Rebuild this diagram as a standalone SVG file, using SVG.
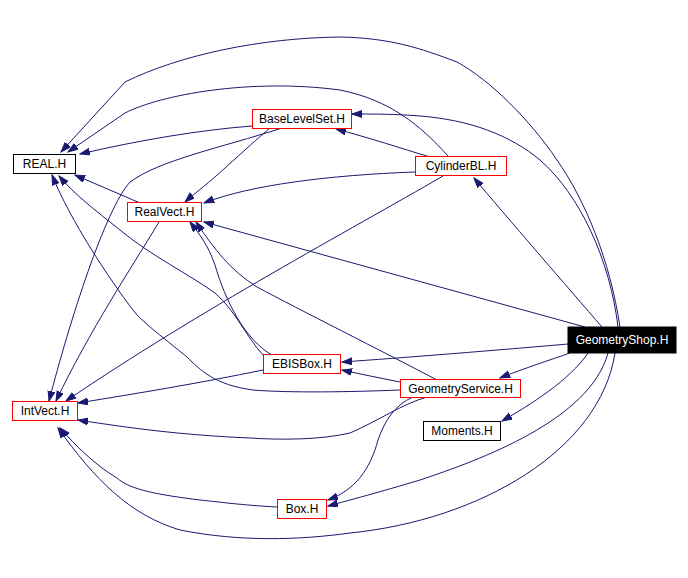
<svg xmlns="http://www.w3.org/2000/svg" width="688" height="578" viewBox="0 0 688 578">
<style>
.e{fill:none;stroke:#191970;stroke-width:1;marker-end:url(#a)}
.n rect{fill:#fff;stroke:#ff0000;stroke-width:1}
.n.k rect{stroke:#000}
.n text{font-family:"Liberation Sans",Arial,sans-serif;font-size:12px;text-anchor:middle;fill:#000}
#GeometryShop rect{fill:#000;stroke:#000}
#GeometryShop text{fill:#fff}
</style>
<defs>
<marker id="a" markerUnits="userSpaceOnUse" markerWidth="11" markerHeight="8" refX="10" refY="3.5" orient="auto">
<path d="M0,0 L10,3.5 L0,7 z" fill="#191970" stroke="#191970"/>
</marker>
</defs>
<rect width="688" height="578" fill="#fff"/>
<g id="edges">
<path class="e" d="M620,327 C610,260 585,200 557,160 C530,120 490,80 457,62 C420,48 390,38 340,37 C260,38 180,55 125,82 L61,152"/>
<path class="e" d="M618,327 C610,260 580,195 540,160 C510,135 470,120 420,116 C395,114 375,114 352,114"/>
<path class="e" d="M602,327 C570,290 505,215 474,178"/>
<path class="e" d="M585,327 L204,222"/>
<path class="e" d="M568,344 C500,350 400,358 342,362"/>
<path class="e" d="M570,353 C550,360 525,368 500,378"/>
<path class="e" d="M588,353 C570,380 530,405 502,421"/>
<path class="e" d="M608,353 C590,420 480,460 420,480 C380,492 350,500 328,506"/>
<path class="e" d="M615,353 C600,450 480,520 350,533 C300,540 240,542 180,530 C130,515 95,480 58,428"/>
<path class="e" d="M252,126 C200,130 140,140 80,154"/>
<path class="e" d="M270,128 C258,138 245,150 225,168 C210,182 195,193 185,202"/>
<path class="e" d="M282,128 C220,148 160,160 130,182 C105,210 70,320 49,401"/>
<path class="e" d="M430,157 C400,148 370,138 336,129"/>
<path class="e" d="M448,156 C420,125 390,100 340,90 C250,78 160,95 125,113 L68,152"/>
<path class="e" d="M415,172 C330,175 250,185 204,203"/>
<path class="e" d="M443,176 C350,230 200,310 66,401"/>
<path class="e" d="M140,203 L75,175"/>
<path class="e" d="M159,222 C130,270 90,330 56,401"/>
<path class="e" d="M272,355 C245,340 225,300 215,265 C208,245 200,235 190,222"/>
<path class="e" d="M263,355 C245,335 235,310 215,293 C190,275 150,255 120,230 C95,210 75,195 59,176"/>
<path class="e" d="M263,370 C200,383 140,393 78,403"/>
<path class="e" d="M400,382 C380,378 360,374 342,370"/>
<path class="e" d="M437,380 C380,350 300,310 257,287 C230,270 215,250 196,222"/>
<path class="e" d="M400,390 C350,392 290,393 253,390 C215,385 200,370 187,357 C160,335 140,320 133,310 C110,280 70,220 52,175"/>
<path class="e" d="M427,397 C400,405 380,420 350,433 C320,440 280,440 250,438 C180,435 130,428 78,420"/>
<path class="e" d="M413,397 C395,405 385,420 378,440 C370,470 355,490 328,500"/>
<path class="e" d="M277,507 C240,505 220,502 200,500 C160,495 130,490 117,478 C95,465 75,445 60,428"/>
</g>
<g id="REAL" class="n k"><rect x="13.5" y="154.5" width="62" height="19"/><text x="44.5" y="168">REAL.H</text></g>
<g id="BaseLevelSet" class="n"><rect x="252.5" y="109.5" width="99" height="19"/><text x="302" y="123">BaseLevelSet.H</text></g>
<g id="CylinderBL" class="n"><rect x="415.5" y="156.5" width="91" height="19"/><text x="461" y="170">CylinderBL.H</text></g>
<g id="RealVect" class="n"><rect x="127.5" y="202.5" width="74" height="19"/><text x="164.5" y="216">RealVect.H</text></g>
<g id="EBISBox" class="n"><rect x="263.5" y="354.5" width="77" height="19"/><text x="302" y="368">EBISBox.H</text></g>
<g id="GeometryService" class="n"><rect x="400.5" y="379.5" width="120" height="18"/><text x="460.5" y="393">GeometryService.H</text></g>
<g id="Moments" class="n k"><rect x="423.5" y="421.5" width="77" height="19"/><text x="462" y="435">Moments.H</text></g>
<g id="IntVect" class="n"><rect x="12.5" y="401.5" width="65" height="19"/><text x="45" y="415">IntVect.H</text></g>
<g id="Box" class="n"><rect x="277.5" y="499.5" width="49" height="19"/><text x="302" y="513">Box.H</text></g>
<g id="GeometryShop" class="n"><rect x="568" y="327" width="108" height="26"/><text x="622" y="344">GeometryShop.H</text></g>
</svg>
